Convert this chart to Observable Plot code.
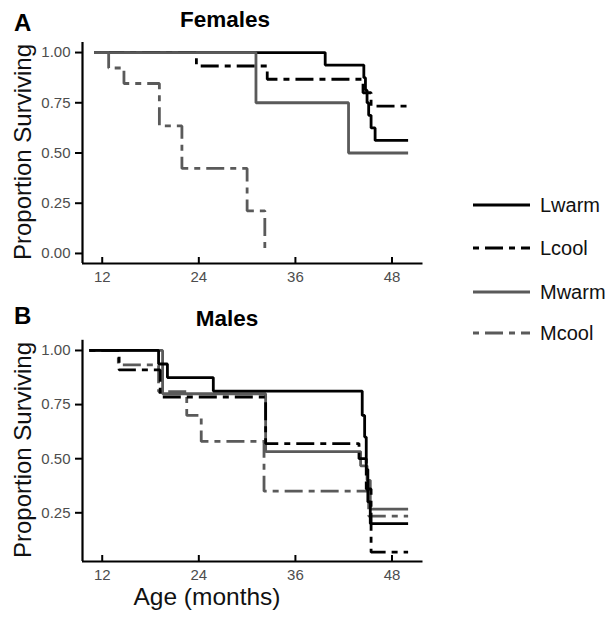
<!DOCTYPE html>
<html><head><meta charset="utf-8">
<script src="https://cdn.jsdelivr.net/npm/d3@7"></script>
<script src="https://cdn.jsdelivr.net/npm/@observablehq/plot@0.6"></script>
<style>
body{margin:0;background:#fff;font-family:"Liberation Sans",Arial,sans-serif;}
#wrap{position:relative;width:610px;height:617px;overflow:hidden;}
.abs{position:absolute;}
</style></head><body><div id="wrap"></div>
<script>
// ---- data ----
const groups = ["Lwarm", "Lcool", "Mwarm", "Mcool"];
const xTicks = [12, 24, 36, 48];
const femYTicks = [0, 0.25, 0.5, 0.75, 1];
const maleYTicks = [0.25, 0.5, 0.75, 1];

// Females (panel A): months and proportion surviving
const femLwarmMonth = [11, 39.7, 44.5, 44.7, 44.9, 45.1, 45.4, 45.9, 50];
const femLwarmSurv  = [1, 0.9375, 0.875, 0.8125, 0.75, 0.6875, 0.625, 0.5625, 0.5625];
const femLcoolMonth = [11, 23.7, 32.5, 44.4, 45.4, 50];
const femLcoolSurv  = [1, 0.933, 0.867, 0.8, 0.733, 0.733];
const femMwarmMonth = [11, 31.1, 42.6, 50];
const femMwarmSurv  = [1, 0.75, 0.5, 0.5];
const femMcoolMonth = [11, 12.8, 14.7, 19.1, 21.9, 30.0, 32.2];
const femMcoolSurv  = [1, 0.923, 0.846, 0.635, 0.423, 0.212, 0];

// Males (panel B)
const maleLwarmMonth = [10.4, 19.0, 20.1, 25.8, 44.3, 44.6, 44.8, 45.0, 45.3, 50];
const maleLwarmSurv  = [1, 0.9375, 0.875, 0.8125, 0.7, 0.6, 0.45, 0.3, 0.2, 0.2];
const maleLcoolMonth = [10.4, 14.1, 19.2, 32.3, 43.9, 44.8, 45.4, 50];
const maleLcoolSurv  = [1, 0.91, 0.785, 0.57, 0.5, 0.36, 0.068, 0.068];
const maleMwarmMonth = [10.4, 19.5, 32.3, 44.1, 44.9, 45.3, 50];
const maleMwarmSurv  = [1, 0.8, 0.533, 0.467, 0.4, 0.267, 0.267];
const maleMcoolMonth = [10.4, 14.0, 19.0, 22.5, 24.3, 32.1, 45.1, 50];
const maleMcoolSurv  = [1, 0.933, 0.81, 0.70, 0.58, 0.35, 0.235, 0.235];

// ---- styles ----
const strokeOf = {Lwarm: "#000", Lcool: "#000", Mwarm: "#5a5a5a", Mcool: "#5a5a5a"};
const dashOf = {Lwarm: null, Lcool: "6,6,18,6", Mwarm: null, Mcool: "6,6,18,6"};
const FONT = '"Liberation Sans", Arial, sans-serif';

function rows(name, months, surv) {
  return months.map((m, i) => ({group: name, month: m, surv: surv[i]}));
}
const femData = [
  ...rows("Lwarm", femLwarmMonth, femLwarmSurv),
  ...rows("Lcool", femLcoolMonth, femLcoolSurv),
  ...rows("Mwarm", femMwarmMonth, femMwarmSurv),
  ...rows("Mcool", femMcoolMonth, femMcoolSurv)
];
const maleData = [
  ...rows("Lwarm", maleLwarmMonth, maleLwarmSurv),
  ...rows("Lcool", maleLcoolMonth, maleLcoolSurv),
  ...rows("Mwarm", maleMwarmMonth, maleMwarmSurv),
  ...rows("Mcool", maleMcoolMonth, maleMcoolSurv)
];

const xDomain = [9.55, 51.85];
const wrap = document.getElementById("wrap");

function panel({data, order, yTicks, yDomain, top, height, marginTop, marginBottom}) {
  const frameH = height - marginTop - marginBottom;
  const chart = Plot.plot({
    width: 440, height, marginLeft: 82, marginRight: 17.5, marginTop, marginBottom,
    x: {domain: xDomain},
    y: {domain: yDomain},
    style: {fontFamily: FONT, fontSize: "15px", background: "transparent", overflow: "visible"},
    marks: [
      ...order.map(g => Plot.lineY(data.filter(d => d.group === g), {
        x: "month", y: "surv", curve: "step-after",
        stroke: strokeOf[g], strokeWidth: 2.8, strokeDasharray: dashOf[g],
        strokeLinecap: "butt", strokeLinejoin: "miter"
      })),
      Plot.ruleX(xTicks, {x: d => d, insetTop: frameH - 6, stroke: "#000", strokeWidth: 2}),
      Plot.ruleX([xDomain[0]], {stroke: "#000", strokeWidth: 2.2}),
      Plot.ruleY([yDomain[0]], {stroke: "#000", strokeWidth: 2.2}),
      Plot.axisX({ticks: xTicks, tickSize: 0, tickPadding: 8, fill: "#4d4d4d", fontSize: 15, label: null}),
      Plot.axisY({ticks: yTicks, tickFormat: d3.format(".2f"), tickSize: 7, tickPadding: 5,
        stroke: "#000", strokeWidth: 2, fill: "#4d4d4d", fontSize: 15, label: null})
    ]
  });
  const div = document.createElement("div");
  div.className = "abs";
  div.style.left = "0px";
  div.style.top = top + "px";
  div.appendChild(chart);
  wrap.appendChild(div);
}

panel({data: femData, order: groups, yTicks: femYTicks, yDomain: [-0.05, 1.05], top: 30, height: 260, marginTop: 12, marginBottom: 27});
panel({data: maleData, order: ["Mcool", "Mwarm", "Lcool", "Lwarm"], yTicks: maleYTicks, yDomain: [0.025, 1.047], top: 320, height: 270, marginTop: 19.8, marginBottom: 29});

// ---- overlay text + legend ----
const svg = d3.select(wrap).append("svg")
  .attr("class", "abs").attr("width", 610).attr("height", 617)
  .style("left", "0px").style("top", "0px").style("pointer-events", "none")
  .style("font-family", FONT);

function txt(s, x, y, size, opts = {}) {
  const t = svg.append("text").attr("x", x).attr("y", y).attr("font-size", size)
    .attr("fill", opts.fill || "#000").attr("text-anchor", opts.anchor || "start")
    .attr("font-weight", opts.bold ? "bold" : "normal").text(s);
  if (opts.rotate) t.attr("transform", `rotate(-90,${x},${y})`);
  return t;
}
txt("A", 14, 31, 24, {bold: true});
txt("Females", 225, 27, 22.5, {bold: true, anchor: "middle"});
txt("B", 14, 324, 24, {bold: true});
txt("Males", 227, 326, 22.5, {bold: true, anchor: "middle"});
txt("Proportion Surviving", 31, 152, 24, {rotate: true, anchor: "middle", fill: "#111"});
txt("Proportion Surviving", 31, 450, 24, {rotate: true, anchor: "middle", fill: "#111"});
txt("Age (months)", 207, 605, 24.5, {anchor: "middle", fill: "#111"});

const legendY = [205, 248, 292, 333];
groups.forEach((g, i) => {
  svg.append("line").attr("x1", 473).attr("x2", 530).attr("y1", legendY[i]).attr("y2", legendY[i])
    .attr("stroke", strokeOf[g]).attr("stroke-width", 2.8)
    .attr("stroke-dasharray", dashOf[g]);
  txt(g, 540, legendY[i] + 7, 20, {fill: "#111"});
});
</script>
</body></html>
